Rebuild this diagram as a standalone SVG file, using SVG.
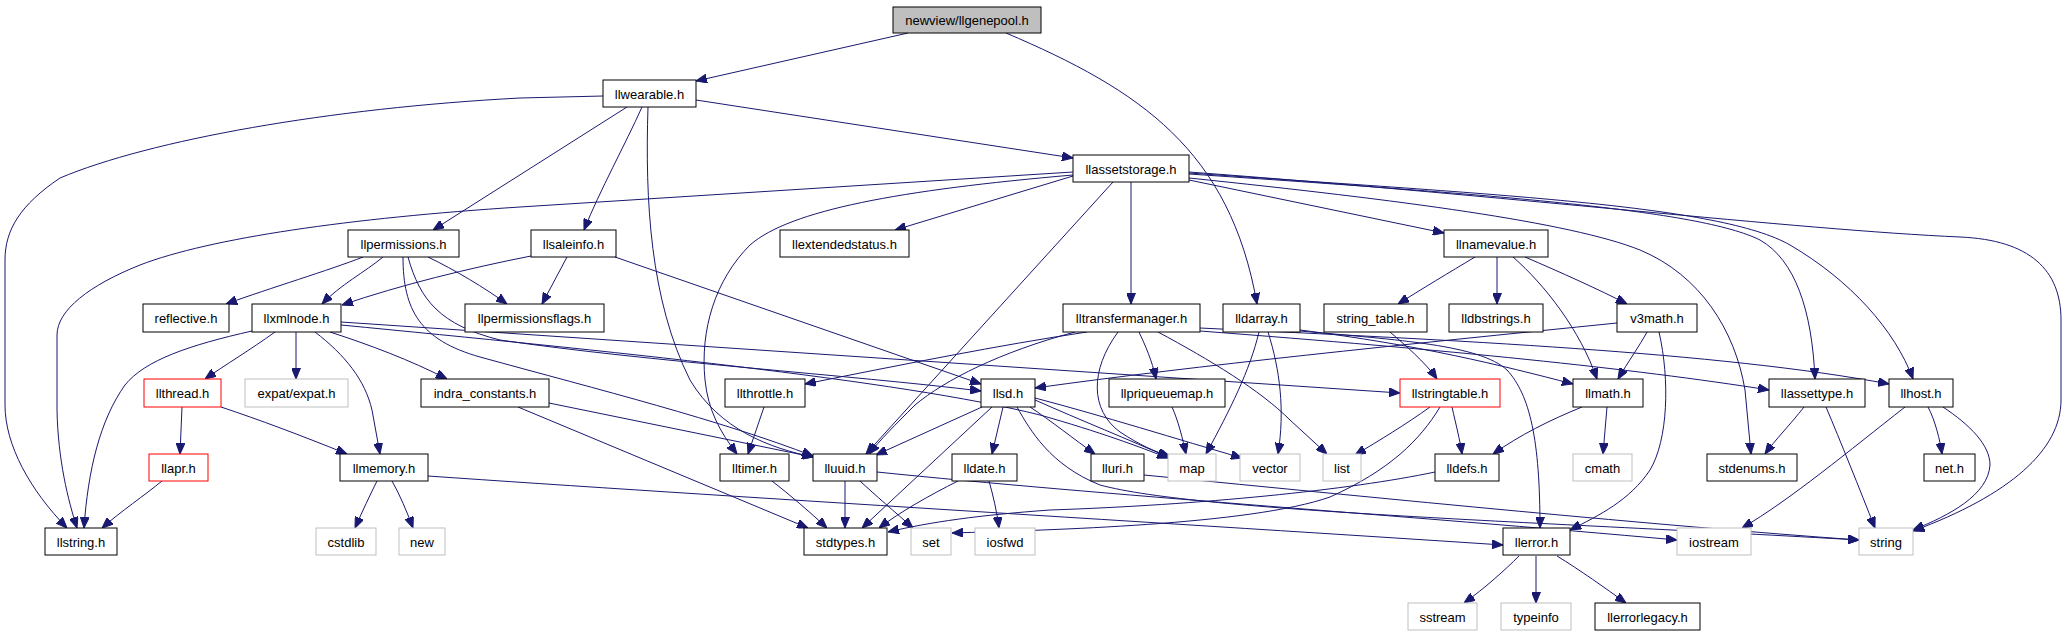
<svg xmlns="http://www.w3.org/2000/svg" width="2067" height="635" viewBox="0 0 2067 635">
<style>
.n rect{fill:#fff;stroke:#000;stroke-width:1}
.n.g rect{stroke:#bfbfbf}
.n.r rect{stroke:#ff0000}
.n.root rect{fill:#bfbfbf}
.n text{font-family:"Liberation Sans",Arial,sans-serif;font-size:13px;fill:#000;text-anchor:middle}
#edges path{fill:none;stroke:#191970;stroke-width:1;marker-end:url(#a)}
</style>
<defs>
<marker id="a" viewBox="0 0 11 9" refX="11" refY="4.5" markerWidth="11" markerHeight="9" markerUnits="userSpaceOnUse" orient="auto"><path d="M0,0 L11,4.5 L0,9 z" fill="#191970" stroke="#191970"/></marker>
</defs>
<rect width="2067" height="635" fill="#fff"/>
<g id="edges">
<path d="M908,33 L696,81"/>
<path d="M1006,33 C1140,90 1230,150 1257,304"/>
<path d="M696,100 L1073,158"/>
<path d="M603,96 L520,98 C330,108 150,140 60,178 C20,205 5,230 5,260 L5,405 C5,445 30,490 67,528"/>
<path d="M627,107 L433,230"/>
<path d="M642,107 C625,145 600,190 584,230"/>
<path d="M648,107 C645,200 650,300 690,380 C720,430 770,448 813,457"/>
<path d="M1073,172 L520,207 C350,218 210,238 140,265 C90,285 57,310 57,335 L57,410 C58,460 68,500 77,528"/>
<path d="M1073,175 C900,190 790,210 750,245 C715,280 700,330 705,380 C708,410 720,432 737,454"/>
<path d="M1113,182 L866,454"/>
<path d="M1073,176 L895,230"/>
<path d="M1131,182 L1131,304"/>
<path d="M1189,180 L1444,233"/>
<path d="M1189,178 C1400,200 1570,222 1640,250 C1700,275 1735,330 1745,390 L1751,454"/>
<path d="M1189,174 C1500,195 1700,210 1760,240 C1795,260 1812,310 1815,379"/>
<path d="M1189,173 C1500,195 1720,205 1790,245 C1850,280 1895,330 1913,379"/>
<path d="M1189,172 C1500,195 1800,230 1960,237 C2030,240 2061,270 2061,320 L2061,400 C2061,450 2010,495 1913,531"/>
<path d="M363,257 C330,270 270,288 226,304"/>
<path d="M383,257 C365,272 340,285 322,304"/>
<path d="M428,257 C455,270 485,288 507,304"/>
<path d="M403,257 C403,310 420,340 480,357 C600,390 720,420 813,456"/>
<path d="M408,257 C420,300 440,325 500,340 C650,362 850,375 981,391"/>
<path d="M531,256 C470,268 400,285 342,305"/>
<path d="M567,257 L542,304"/>
<path d="M615,257 L981,384"/>
<path d="M1475,257 C1450,272 1420,290 1398,304"/>
<path d="M1497,257 L1497,304"/>
<path d="M1513,257 C1545,285 1580,330 1597,379"/>
<path d="M1525,257 C1560,272 1600,290 1627,304"/>
<path d="M252,331 C190,345 145,360 125,385 C100,420 88,470 84,528"/>
<path d="M275,332 C250,350 225,365 205,379"/>
<path d="M296,332 L296,379"/>
<path d="M315,332 C345,355 365,380 372,410 L380,454"/>
<path d="M330,332 C370,345 410,360 447,379"/>
<path d="M341,322 L1400,393"/>
<path d="M341,325 C600,350 900,380 1040,415 C1100,432 1140,447 1168,458"/>
<path d="M1087,332 C1000,345 900,365 805,384"/>
<path d="M1075,332 C1000,352 945,380 915,405 C895,425 880,440 869,454"/>
<path d="M1139,332 C1145,345 1152,360 1156,379"/>
<path d="M1118,332 C1090,370 1090,410 1120,432 C1140,445 1155,452 1170,456"/>
<path d="M1158,332 C1210,360 1260,390 1290,420 L1327,454"/>
<path d="M1200,328 C1450,340 1720,352 1889,384"/>
<path d="M1200,331 C1450,350 1630,368 1769,390"/>
<path d="M1259,332 C1250,370 1230,410 1206,454"/>
<path d="M1268,332 C1280,370 1285,410 1278,454"/>
<path d="M1300,330 C1420,345 1500,365 1573,384"/>
<path d="M1300,331 C1400,340 1480,345 1507,370 C1530,395 1540,440 1540,528"/>
<path d="M1390,332 C1405,345 1425,362 1437,379"/>
<path d="M1617,323 C1400,345 1200,365 1035,388"/>
<path d="M1647,332 C1640,345 1628,362 1618,379"/>
<path d="M1659,332 C1670,380 1668,440 1650,470 C1630,500 1600,515 1570,530"/>
<path d="M182,407 L180,454"/>
<path d="M221,407 C260,420 300,435 347,454"/>
<path d="M764,407 L748,454"/>
<path d="M549,403 L813,457"/>
<path d="M518,407 L808,528"/>
<path d="M982,407 L876,455"/>
<path d="M992,407 L862,528"/>
<path d="M1003,407 L992,454"/>
<path d="M1030,407 C1050,420 1075,440 1095,454"/>
<path d="M1035,400 C1080,420 1130,440 1170,458"/>
<path d="M1035,398 C1100,415 1180,440 1242,458"/>
<path d="M1017,407 C1030,430 1050,465 1100,485 C1200,512 1550,522 1859,540"/>
<path d="M1172,407 C1178,420 1183,440 1186,454"/>
<path d="M1430,407 C1405,425 1380,440 1355,455"/>
<path d="M1452,407 C1456,425 1460,440 1462,454"/>
<path d="M1440,407 C1420,440 1390,470 1330,497 C1250,525 1050,530 952,533"/>
<path d="M1582,407 C1550,420 1520,435 1493,454"/>
<path d="M1607,407 L1603,454"/>
<path d="M1804,407 C1790,425 1775,440 1765,454"/>
<path d="M1826,407 C1840,440 1860,490 1875,528"/>
<path d="M1905,407 C1850,450 1790,500 1742,528"/>
<path d="M1928,407 C1935,420 1940,440 1942,454"/>
<path d="M1943,407 C1970,425 1990,445 1990,465 C1988,495 1950,515 1913,530"/>
<path d="M162,481 C145,495 120,512 102,528"/>
<path d="M377,481 C370,495 362,512 355,528"/>
<path d="M392,481 C400,495 407,512 413,528"/>
<path d="M428,476 C700,495 1200,525 1503,545"/>
<path d="M772,481 C790,495 810,512 827,528"/>
<path d="M845,481 L845,528"/>
<path d="M860,481 C875,495 895,512 913,528"/>
<path d="M877,472 C1100,495 1400,515 1677,540"/>
<path d="M958,481 C930,495 900,512 879,528"/>
<path d="M989,481 C993,495 997,512 999,528"/>
<path d="M1144,475 C1400,500 1650,525 1859,540"/>
<path d="M1435,472 C1350,490 1200,505 1050,510 C980,515 930,522 888,532"/>
<path d="M1519,556 C1505,570 1485,588 1464,603"/>
<path d="M1536,556 L1536,603"/>
<path d="M1557,556 C1580,570 1605,588 1626,603"/>
</g>
<g id="llgenepool" class="n root"><rect x="893" y="7" width="148" height="26"/><text x="967" y="25">newview/llgenepool.h</text></g>
<g id="llwearable" class="n"><rect x="603" y="80" width="93" height="27"/><text x="649.5" y="98.5">llwearable.h</text></g>
<g id="llassetstorage" class="n"><rect x="1073" y="155" width="116" height="27"/><text x="1131" y="173.5">llassetstorage.h</text></g>
<g id="llpermissions" class="n"><rect x="348" y="230" width="111" height="27"/><text x="403.5" y="248.5">llpermissions.h</text></g>
<g id="llsaleinfo" class="n"><rect x="531" y="230" width="85" height="27"/><text x="573.5" y="248.5">llsaleinfo.h</text></g>
<g id="llextendedstatus" class="n"><rect x="780" y="230" width="129" height="27"/><text x="844.5" y="248.5">llextendedstatus.h</text></g>
<g id="llnamevalue" class="n"><rect x="1444" y="230" width="104" height="27"/><text x="1496" y="248.5">llnamevalue.h</text></g>
<g id="reflective" class="n"><rect x="143" y="304" width="86" height="28"/><text x="186" y="322.5">reflective.h</text></g>
<g id="llxmlnode" class="n"><rect x="252" y="304" width="89" height="28"/><text x="296.5" y="322.5">llxmlnode.h</text></g>
<g id="llpermissionsflags" class="n"><rect x="465" y="304" width="139" height="28"/><text x="534.5" y="322.5">llpermissionsflags.h</text></g>
<g id="lltransfermanager" class="n"><rect x="1063" y="304" width="137" height="28"/><text x="1131.5" y="322.5">lltransfermanager.h</text></g>
<g id="lldarray" class="n"><rect x="1223" y="304" width="77" height="28"/><text x="1261.5" y="322.5">lldarray.h</text></g>
<g id="string_table" class="n"><rect x="1324" y="304" width="103" height="28"/><text x="1375.5" y="322.5">string_table.h</text></g>
<g id="lldbstrings" class="n"><rect x="1449" y="304" width="94" height="28"/><text x="1496" y="322.5">lldbstrings.h</text></g>
<g id="v3math" class="n"><rect x="1617" y="304" width="80" height="28"/><text x="1657" y="322.5">v3math.h</text></g>
<g id="llthread" class="n r"><rect x="144" y="379" width="77" height="28"/><text x="182.5" y="397.5">llthread.h</text></g>
<g id="expat" class="n g"><rect x="245" y="379" width="103" height="28"/><text x="296.5" y="397.5">expat/expat.h</text></g>
<g id="indra_constants" class="n"><rect x="421" y="379" width="128" height="28"/><text x="485" y="397.5">indra_constants.h</text></g>
<g id="llthrottle" class="n"><rect x="725" y="379" width="80" height="28"/><text x="765" y="397.5">llthrottle.h</text></g>
<g id="llsd" class="n"><rect x="981" y="379" width="54" height="28"/><text x="1008" y="397.5">llsd.h</text></g>
<g id="llpriqueuemap" class="n"><rect x="1109" y="379" width="116" height="28"/><text x="1167" y="397.5">llpriqueuemap.h</text></g>
<g id="llstringtable" class="n r"><rect x="1400" y="379" width="100" height="28"/><text x="1450" y="397.5">llstringtable.h</text></g>
<g id="llmath" class="n"><rect x="1573" y="379" width="70" height="28"/><text x="1608" y="397.5">llmath.h</text></g>
<g id="llassettype" class="n"><rect x="1769" y="379" width="96" height="28"/><text x="1817" y="397.5">llassettype.h</text></g>
<g id="llhost" class="n"><rect x="1889" y="379" width="64" height="28"/><text x="1921" y="397.5">llhost.h</text></g>
<g id="llapr" class="n r"><rect x="149" y="454" width="59" height="27"/><text x="178.5" y="472.5">llapr.h</text></g>
<g id="llmemory" class="n"><rect x="340" y="454" width="88" height="27"/><text x="384" y="472.5">llmemory.h</text></g>
<g id="lltimer" class="n"><rect x="720" y="454" width="69" height="27"/><text x="754.5" y="472.5">lltimer.h</text></g>
<g id="lluuid" class="n"><rect x="813" y="454" width="64" height="27"/><text x="845" y="472.5">lluuid.h</text></g>
<g id="lldate" class="n"><rect x="952" y="454" width="65" height="27"/><text x="984.5" y="472.5">lldate.h</text></g>
<g id="lluri" class="n"><rect x="1091" y="454" width="53" height="27"/><text x="1117.5" y="472.5">lluri.h</text></g>
<g id="map" class="n g"><rect x="1168" y="454" width="48" height="27"/><text x="1192" y="472.5">map</text></g>
<g id="vector" class="n g"><rect x="1240" y="454" width="60" height="27"/><text x="1270" y="472.5">vector</text></g>
<g id="list" class="n g"><rect x="1323" y="454" width="38" height="27"/><text x="1342" y="472.5">list</text></g>
<g id="lldefs" class="n"><rect x="1435" y="454" width="64" height="27"/><text x="1467" y="472.5">lldefs.h</text></g>
<g id="cmath" class="n g"><rect x="1573" y="454" width="59" height="27"/><text x="1602.5" y="472.5">cmath</text></g>
<g id="stdenums" class="n"><rect x="1707" y="454" width="90" height="27"/><text x="1752" y="472.5">stdenums.h</text></g>
<g id="net" class="n"><rect x="1924" y="454" width="51" height="27"/><text x="1949.5" y="472.5">net.h</text></g>
<g id="llstring" class="n"><rect x="45" y="528" width="72" height="27"/><text x="81" y="546.5">llstring.h</text></g>
<g id="cstdlib" class="n g"><rect x="316" y="528" width="60" height="27"/><text x="346" y="546.5">cstdlib</text></g>
<g id="new" class="n g"><rect x="399" y="528" width="46" height="27"/><text x="422" y="546.5">new</text></g>
<g id="stdtypes" class="n"><rect x="804" y="528" width="83" height="27"/><text x="845.5" y="546.5">stdtypes.h</text></g>
<g id="set" class="n g"><rect x="911" y="528" width="40" height="27"/><text x="931" y="546.5">set</text></g>
<g id="iosfwd" class="n g"><rect x="975" y="528" width="60" height="27"/><text x="1005" y="546.5">iosfwd</text></g>
<g id="llerror" class="n"><rect x="1503" y="528" width="67" height="27"/><text x="1536.5" y="546.5">llerror.h</text></g>
<g id="iostream" class="n g"><rect x="1677" y="528" width="74" height="27"/><text x="1714" y="546.5">iostream</text></g>
<g id="string" class="n g"><rect x="1859" y="528" width="54" height="27"/><text x="1886" y="546.5">string</text></g>
<g id="sstream" class="n g"><rect x="1408" y="603" width="69" height="27"/><text x="1442.5" y="621.5">sstream</text></g>
<g id="typeinfo" class="n g"><rect x="1501" y="603" width="70" height="27"/><text x="1536" y="621.5">typeinfo</text></g>
<g id="llerrorlegacy" class="n"><rect x="1595" y="603" width="105" height="27"/><text x="1647.5" y="621.5">llerrorlegacy.h</text></g>
</svg>
